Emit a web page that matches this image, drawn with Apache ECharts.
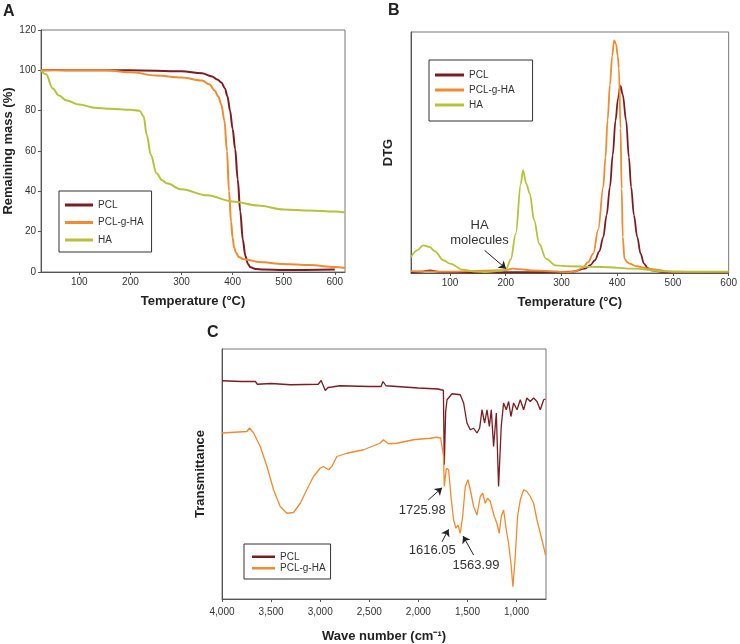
<!DOCTYPE html>
<html><head><meta charset="utf-8">
<script src="https://cdn.jsdelivr.net/npm/echarts@6/dist/echarts.min.js"></script>
<style>html,body{margin:0;padding:0;background:#fff}#c{width:740px;height:644px}</style>
</head><body><div id="c"></div>
<script>
// ---------- Data ----------
const seriesNames = ['PCL', 'PCL-g-HA', 'HA'];
// Panel A: TGA (temperature °C, remaining mass %)
const tgaPclT = [25,50,100,200,300,340,360,370,378,385,390,395,400,405,410,415,420,425,430,435,445,460,500,600];
const tgaPclM = [100,100.2,100,100,99.5,98.5,97,95.5,94,91,87,80,71,61,46,30,16,8,4,2.3,1.5,1.2,1,1.2];
const tgaGraftT = [25,100,150,200,250,300,340,355,365,372,378,384,389,393,397,400,403,407,412,420,430,450,500,550,600,620];
const tgaGraftM = [100,100,100,99,97.5,96.5,95,93,90,87,83,75,60,40,25,17,12,9.5,7.5,6.5,6,5,4,3.5,2.5,2];
const tgaHaT = [25,35,48,60,75,100,130,160,200,218,226,232,240,251,262,271,300,350,400,450,500,550,600,620];
const tgaHaM = [100,98,91,87.5,85,83,81.5,81,80.5,80,77,68,58,49,45.5,44,41,38,35,33,31,30.5,30,29.5];
// Panel B: DTG (temperature °C, arbitrary units)
const dtgPclT = [30,50,64,80,150,250,320,342,352,360,368,375,381,387,392,397,401.5,405.8,410,416,421,425,430,436,442,448,455,461,480,600];
const dtgPclV = [0.4,0.6,1.1,0.5,0.3,0.4,0.6,1.8,3.3,5.3,9,14.9,24,35.7,49,63.3,72.5,77.6,74,63.3,48,35.7,24,14.9,8,3.9,2,1.1,0.5,0.4];
const dtgGraftT = [30,100,200,212,225,247,313,325,337,348,357,366,375,379,382.7,387,391,394.5,398,401,403,406,408,410,413,418,422,435,455,500,600];
const dtgGraftV = [0.8,0.6,1.2,1.8,1.6,1.1,0.4,0.8,2,4.5,8,18,35.7,48,63.3,78,90,96.5,95,90,85,60,35,15,6,4.5,3.9,2.8,1.8,0.5,0.5];
const dtgHaT = [30,41,52,63,73,88,100,123,145,165,194,201,209,218,227,231,237,243,251,260,272,289,313,372,431,478,540,600];
const dtgHaV = [6.6,9.4,11.5,10.8,9,5.3,3.9,1.4,0.6,0.4,1.0,1.8,5.6,16.3,37,42.6,37,33,21.9,12.2,6.0,3.2,2.8,2.5,1.8,0.8,0.6,0.6];
// Panel C: FTIR (wave number cm-1, transmittance arbitrary)
const ftirPclW = [4000,3800,3660,3640,3500,3300,3020,2990,2948,2920,2881,2800,2500,2380,2360,2330,2000,1800,
  1769,1745,1736,1722,1708,1657,1573,1539,1505,1471,1437,1403,1376,1352,1325,1301,1277,1257,1234,1206,1183,1156,1132,1104,1081,1057,1030,995,962,928,895,860,826,792,758,724,705];
const ftirPclV = [87.3,87.0,87.0,85.9,86.2,85.7,85.9,87.4,83.4,84.6,84.8,85.3,85.0,85.0,87.0,85.3,84.4,84.0,
  83.7,83.5,53.7,75,79.7,82.1,81.7,78.4,70.4,67.7,68.3,66.4,68.3,75.7,70.4,75.7,69.0,75.7,61.0,74.4,45.0,69.0,78.4,75.7,79.0,73.0,78.4,75.7,79.7,75.7,80.4,79.0,80.4,79.0,75.7,79.7,80.0];
const ftirGraftW = [4000,3746,3720,3678,3610,3542,3475,3407,3339,3271,3203,3136,3068,3000,2966,2915,2881,2830,2729,2559,2390,2356,2305,2220,2050,1881,
  1813,1773,1760,1743,1736,1725,1715,1692,1668,1641,1617,1597,1573,1549,1522,1495,1471,1437,1403,1369,1345,1318,1295,1267,1250,1227,1200,1176,1156,1132,1104,1081,1057,1037,1013,990,962,928,895,860,826,792,758,724,705];
const ftirGraftV = [66.4,67.0,68.4,66.4,61.0,53.0,43.7,37.0,34.3,34.6,38.3,43.7,49.0,52.3,53.0,51.7,53.0,57.0,58.3,59.7,62.3,63.7,62.1,62.3,63.7,64.3,
  64.7,64.4,63.7,57.0,45.0,49.0,52.3,51.7,41.0,31.6,28.3,29.6,26.3,33.0,45.0,47.7,43.7,37.0,33.6,41.0,42.3,38.3,40.3,39.0,39.6,33.0,30.3,26.3,33.0,35.6,27.6,22.3,14.3,4.9,17.0,33.0,39.6,43.7,43.0,41.0,38.3,31.6,26.3,20.9,17.6];
// Tick labels
const tempTicksA = [100,200,300,400,500,600];
const massTicks = [0,20,40,60,80,100,120];
const tempTicksB = [100,200,300,400,500,600];
const waveTicks = [1000,1500,2000,2500,3000,3500,4000];
// Annotation texts
const haNote = 'HA\nmolecules';
const peakNotes = ['1725.98', '1616.05', '1563.99'];

// ---------- Chart ----------
const zip = (a, b) => a.map((v, i) => [v, b[i]]);
const FONT = 'Liberation Sans, Arial, sans-serif';
const colors = ['#7b1c20', '#f28a30', '#b5c23a'];
const axisLineStyle = { lineStyle: { color: '#555', width: 1 } };
const tickStyle = { show: true, length: 3, lineStyle: { color: '#555' } };
const labelStyle = { color: '#333', fontSize: 10, fontFamily: FONT };
const nameStyle = { color: '#222', fontSize: 13, fontWeight: 'bold', fontFamily: FONT };
const comma = v => String(v).replace(/\B(?=(\d{3})+(?!\d))/g, ',');

function line(name, data, xi, width, extra) {
  const c = colors[seriesNames.indexOf(name)];
  return Object.assign({
    type: 'line', name, data, xAxisIndex: xi, yAxisIndex: xi,
    showSymbol: false, symbol: 'none', silent: true,
    color: c, lineStyle: { width: width, color: c },
    animation: false, z: 2
  }, extra || {});
}
const smoothOpt = { smooth: 0.35, smoothMonotone: 'x' };
const arrowMark = (pairs) => ({
  silent: true, animation: false, symbol: ['none', 'arrow'], symbolSize: 7,
  itemStyle: { color: '#222' },
  lineStyle: { color: '#222', width: 1, type: 'solid' }, label: { show: false },
  emphasis: { disabled: true },
  data: pairs.map(p => [{ coord: p[0] }, { coord: p[1] }])
});
const textMark = (items) => ({
  silent: true, animation: false, symbol: 'circle', symbolSize: 0,
  label: { show: true, position: 'inside', formatter: '{b}', color: '#333', fontSize: 13, fontFamily: FONT, lineHeight: 15 },
  data: items.map(it => ({ name: it[0], coord: it[1] }))
});

const legendBase = {
  orient: 'vertical', icon: 'rect', selectedMode: false,
  borderColor: '#333', borderWidth: 1, backgroundColor: '#fff',
  textStyle: { color: '#333', fontSize: 10, fontFamily: FONT }
};
const letterStyle = { fontSize: 16, fontWeight: 'bold', color: '#222', fontFamily: FONT };

const option = {
  animation: false,
  textStyle: { fontFamily: FONT },
  title: [
    { text: 'A', left: 3, top: 4, padding: 0, textStyle: letterStyle },
    { text: 'B', left: 388, top: 3, padding: 0, textStyle: letterStyle },
    { text: 'C', left: 207, top: 325, padding: 0, textStyle: letterStyle }
  ],
  grid: [
    { left: 41, top: 30, width: 304, height: 242, show: true, borderColor: '#777', borderWidth: 1, containLabel: false },
    { left: 411, top: 32, width: 321, height: 241, show: true, borderColor: '#777', borderWidth: 1, containLabel: false },
    { left: 222, top: 349, width: 324, height: 250, show: true, borderColor: '#777', borderWidth: 1, containLabel: false }
  ],
  legend: [
    Object.assign({}, legendBase, { data: seriesNames, left: 59, top: 191, padding: [7, 8, 5, 6], itemGap: 3.5, itemWidth: 28, itemHeight: 3,
      textStyle: Object.assign({}, legendBase.textStyle, { lineHeight: 14 }) }),
    Object.assign({}, legendBase, { data: seriesNames, left: 429, top: 60, padding: [8, 18, 9, 6], itemGap: 1, itemWidth: 29, itemHeight: 3,
      textStyle: Object.assign({}, legendBase.textStyle, { lineHeight: 14 }) }),
    Object.assign({}, legendBase, { data: seriesNames.slice(0, 2), left: 244, top: 544, padding: [7, 5, 5, 8], itemGap: 0, itemWidth: 23, itemHeight: 2.5,
      textStyle: Object.assign({}, legendBase.textStyle, { lineHeight: 11.5 }) })
  ],
  xAxis: [
    { gridIndex: 0, type: 'value', min: 25, max: 620, name: 'Temperature (°C)', nameLocation: 'middle', nameGap: 23, nameTextStyle: nameStyle,
      axisLine: axisLineStyle, axisTick: Object.assign({ customValues: tempTicksA }, tickStyle),
      axisLabel: Object.assign({ customValues: tempTicksA, margin: 5 }, labelStyle), splitLine: { show: false } },
    { gridIndex: 1, type: 'value', min: 30, max: 600, name: 'Temperature (°C)', nameLocation: 'middle', nameGap: 23, nameTextStyle: nameStyle,
      axisLine: axisLineStyle, axisTick: Object.assign({ customValues: tempTicksB }, tickStyle),
      axisLabel: Object.assign({ customValues: tempTicksB, margin: 5 }, labelStyle), splitLine: { show: false } },
    { gridIndex: 2, type: 'value', min: 700, max: 4000, inverse: true, name: 'Wave number (cm\u207B\u00B9)', nameLocation: 'middle', nameGap: 31, nameTextStyle: nameStyle,
      axisLine: axisLineStyle, axisTick: Object.assign({ customValues: waveTicks }, tickStyle),
      axisLabel: Object.assign({ customValues: waveTicks, margin: 8, formatter: v => comma(v) }, labelStyle), splitLine: { show: false } }
  ],
  yAxis: [
    { gridIndex: 0, type: 'value', min: 0, max: 120, interval: 20, name: 'Remaining mass (%)', nameLocation: 'middle', nameGap: 24, nameTextStyle: nameStyle,
      axisLine: Object.assign({ show: true }, axisLineStyle), axisTick: Object.assign({ customValues: massTicks }, tickStyle),
      axisLabel: Object.assign({ customValues: massTicks, margin: 5 }, labelStyle), splitLine: { show: false } },
    { gridIndex: 1, type: 'value', min: 0, max: 100, name: 'DTG', nameLocation: 'middle', nameGap: 16, nameTextStyle: nameStyle,
      axisLine: Object.assign({ show: true }, axisLineStyle), axisTick: { show: false }, axisLabel: { show: false }, splitLine: { show: false } },
    { gridIndex: 2, type: 'value', min: 0, max: 100, name: 'Transmittance', nameLocation: 'middle', nameGap: 15, nameTextStyle: nameStyle,
      axisLine: Object.assign({ show: true }, axisLineStyle), axisTick: { show: false }, axisLabel: { show: false }, splitLine: { show: false } }
  ],
  series: [
    line('PCL', zip(tgaPclT, tgaPclM), 0, 2, smoothOpt),
    line('PCL-g-HA', zip(tgaGraftT, tgaGraftM), 0, 2, smoothOpt),
    line('HA', zip(tgaHaT, tgaHaM), 0, 2, smoothOpt),
    line('PCL', zip(dtgPclT, dtgPclV), 1, 1.8, smoothOpt),
    line('PCL-g-HA', zip(dtgGraftT, dtgGraftV), 1, 1.8, Object.assign({}, smoothOpt, {
      markLine: arrowMark([[[162, 9.4], [200.5, 1.8]]]),
      markPoint: textMark([[haNote, [153, 16.5]]])
    })),
    line('HA', zip(dtgHaT, dtgHaV), 1, 1.8, smoothOpt),
    line('PCL', zip(ftirPclW, ftirPclV), 2, 1.3),
    line('PCL-g-HA', zip(ftirGraftW, ftirGraftV), 2, 1.3, {
      markLine: arrowMark([
        [[1899, 39.6], [1759, 44.5]],
        [[1759, 22.9], [1692, 27.9]],
        [[1437, 17.6], [1545, 25.2]]
      ]),
      markPoint: textMark([
        [peakNotes[0], [1960, 35.6]],
        [peakNotes[1], [1858, 19.6]],
        [peakNotes[2], [1413, 13.3]]
      ])
    })
  ]
};
const chart = echarts.init(document.getElementById('c'), null, { renderer: 'canvas' });
chart.setOption(option);
</script></body></html>
